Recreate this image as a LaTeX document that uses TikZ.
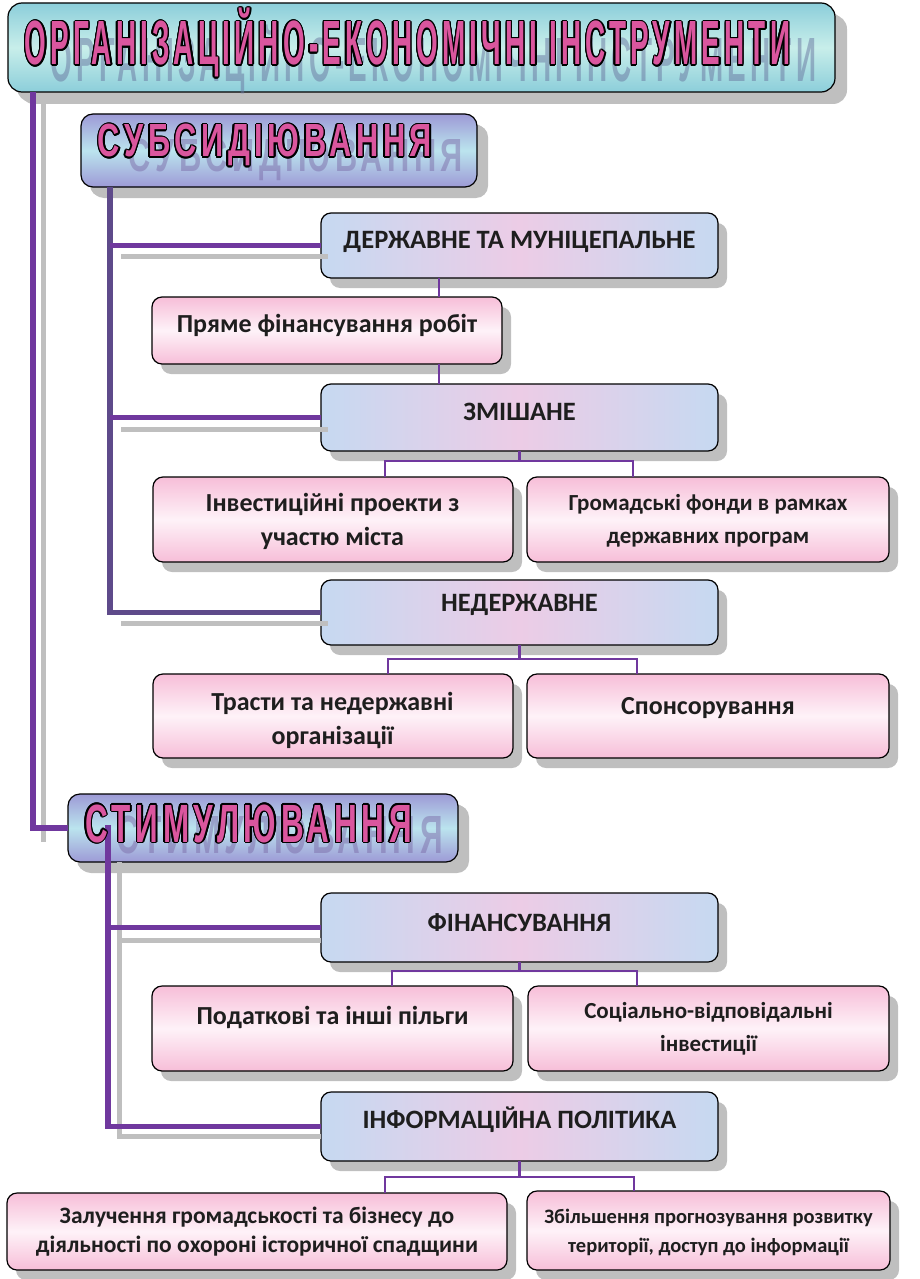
\documentclass[tikz,border=0pt]{standalone}
\usepackage{fontspec}
\usepackage{graphicx}
\setmainfont{Carlito}
\newfontfamily\ttlfont{Liberation Sans}[LetterSpace=15]
\usetikzlibrary{shadows,calc}

\definecolor{lnpurple}{RGB}{112,56,158}
\definecolor{lndark}{RGB}{94,74,138}
\definecolor{shgray}{RGB}{191,191,191}
\definecolor{bluE}{RGB}{198,217,241}
\definecolor{bluM}{RGB}{236,204,230}
\definecolor{pnkE}{RGB}{247,190,216}
\definecolor{pnkM}{RGB}{254,242,248}
\definecolor{hdE}{RGB}{157,154,214}
\definecolor{hdM}{RGB}{187,228,238}
\definecolor{tlE}{RGB}{140,206,218}
\definecolor{tlM}{RGB}{200,238,234}
\definecolor{lettr}{RGB}{218,86,158}
\definecolor{ghostT}{RGB}{105,118,160}
\definecolor{ghostH}{RGB}{125,110,170}
\definecolor{txt}{RGB}{30,30,30}

\newcommand\capsbox[1]{\raisebox{0pt}[\fontcharht\font`Н][0pt]{#1}}
\newcommand\fancytext[7]{%
  \node[fancy, text=#7, text opacity=0.5, anchor=base] (#1g) at ($#2+#6$) {\resizebox{#3}{#4}{\ttlfont\bfseries\capsbox{#5}}};
  \foreach \ang [count=\k] in {0,22.5,...,337.5}{
    \node[fancy, text=black, anchor=base] (#1o\k) at ($#2+(\ang:1.4pt)$) {\resizebox{#3}{#4}{\ttlfont\bfseries\capsbox{#5}}};}
  \node[fancy, text=lettr, anchor=base] (#1) at #2 {\resizebox{#3}{#4}{\ttlfont\bfseries\capsbox{#5}}};
}

\tikzset{
  fancy/.style={inner sep=0pt, outer sep=0pt},
  boxbase/.style={draw=black, line width=1.2pt, rounded corners=10pt, anchor=north west,
    inner sep=0pt, outer sep=0pt,
    drop shadow={shadow xshift=9pt, shadow yshift=-10pt, fill=shgray, opacity=1, draw=none}},
  bluebox/.style={boxbase, left color=bluE, right color=bluE, middle color=bluM},
  pinkbox/.style={boxbase, top color=pnkE, bottom color=pnkE, middle color=pnkM},
  headbox/.style={boxbase, rounded corners=12pt, top color=hdE, bottom color=hdE, middle color=hdM,
    drop shadow={shadow xshift=11pt, shadow yshift=-11pt, fill=shgray, opacity=1, draw=none}},
  titlebox/.style={boxbase, rounded corners=14pt, top color=tlE, bottom color=tlE, middle color=tlM,
    drop shadow={shadow xshift=12pt, shadow yshift=-12pt, fill=shgray, opacity=1, draw=none}},
  mainln/.style={draw=lnpurple, line width=5.5pt, line join=miter},
  subln/.style={draw=lndark, line width=5.5pt, line join=miter},
  shln/.style={draw=shgray, line width=5pt},
  thinln/.style={draw=lnpurple, line width=2.5pt},
  lblH/.style={inner sep=0pt, text=txt, font=\bfseries\fontsize{26.5}{30}\selectfont, align=center},
  lblP/.style={inner sep=0pt, text=txt, font=\bfseries\fontsize{26}{34}\selectfont, align=center},
  lblS/.style={inner sep=0pt, text=txt, font=\bfseries\fontsize{23}{33}\selectfont, align=center},
  lblBL/.style={inner sep=0pt, text=txt, font=\bfseries\fontsize{23.5}{29}\selectfont, align=center},
  lblBR/.style={inner sep=0pt, text=txt, font=\bfseries\fontsize{20.5}{29}\selectfont, align=center},
}

\begin{document}
\begin{tikzpicture}[x=1pt,y=-1pt]
\useasboundingbox (0,0) rectangle (919,1279);

% boxes
\node[titlebox, minimum width=827pt, minimum height=89pt] (title) at (8,3) {};
\node[headbox, minimum width=396pt, minimum height=73pt] (subs) at (81,114) {};
\node[bluebox, minimum width=397pt, minimum height=65pt] (derzh) at (321,213) {};
\node[pinkbox, minimum width=350pt, minimum height=67pt] (pryame) at (152,297) {};
\node[bluebox, minimum width=397pt, minimum height=67pt] (zmish) at (321,384) {};
\node[pinkbox, minimum width=360pt, minimum height=85pt] (invest) at (153,477) {};
\node[pinkbox, minimum width=362pt, minimum height=85pt] (hromad) at (527,477) {};
\node[bluebox, minimum width=397pt, minimum height=65pt] (nederzh) at (321,580) {};
\node[pinkbox, minimum width=360pt, minimum height=84pt] (trasty) at (153,674) {};
\node[pinkbox, minimum width=362pt, minimum height=84pt] (spons) at (527,674) {};
\node[headbox, minimum width=390pt, minimum height=68pt] (stim) at (68,794) {};
\node[bluebox, minimum width=397pt, minimum height=69pt] (fin) at (321,893) {};
\node[pinkbox, minimum width=361pt, minimum height=85pt] (podat) at (152,986) {};
\node[pinkbox, minimum width=361pt, minimum height=85pt] (social) at (528,986) {};
\node[bluebox, minimum width=397pt, minimum height=69pt] (info) at (321,1092) {};
\node[pinkbox, minimum width=500pt, minimum height=77pt] (zaluch) at (7,1193) {};
\node[pinkbox, minimum width=363pt, minimum height=79pt] (zbil) at (527,1191) {};

% gray shadow lines
\coordinate (g1) at (43,104);
\coordinate (g1e) at (43,842);
\draw[shln] (g1) -- (g1e);
\coordinate (gs) at (121,0);
\coordinate (gin) at (7,0);
\draw[shln] ($(gs |- derzh.west)+(0,11)$) -- ($(derzh.west)+(gin)+(0,11)$);
\draw[shln] ($(gs |- zmish.west)+(0,12)$) -- ($(zmish.west)+(gin)+(0,12)$);
\draw[shln] ($(gs |- nederzh.west)+(0,11)$) -- ($(nederzh.west)+(gin)+(0,11)$);
\coordinate (gt) at (119,862);
\draw[shln] (gt) |- ($(info.west)+(0,10)$);
\draw[shln] ($(gt |- fin.west)+(0,13)$) -- ($(fin.west)+(0,13)$);

% main purple lines
\coordinate (mx) at (33,0);
\draw[mainln] (title.south -| mx) |- (stim.west);
\coordinate (sx) at (110,0);
\draw[subln] (subs.south -| sx) |- (nederzh.west);
\draw[mainln] (sx |- derzh.west) -- (derzh.west);
\draw[mainln] (sx |- zmish.west) -- (zmish.west);
\coordinate (tx) at (108,825);
\draw[mainln] (tx) |- (info.west);
\draw[mainln] (tx |- fin.west) -- (fin.west);

% thin connectors
\coordinate (cx) at (439,0);
\draw[thinln] (derzh.south -| cx) -- (pryame.north -| cx);
\draw[thinln] (pryame.south -| cx) -- (zmish.north -| cx);

\coordinate (zj) at (519.5,461);
\coordinate (zl) at (385,0);
\coordinate (zr) at (633,0);
\draw[thinln] (zmish.south) -- (zj);
\draw[thinln] (invest.north -| zl) |- (zj) -| (hromad.north -| zr);

\coordinate (nj) at (519.5,659);
\coordinate (nl) at (388,0);
\coordinate (nr) at (637,0);
\draw[thinln] (nederzh.south) -- (nj);
\draw[thinln] (trasty.north -| nl) |- (nj) -| (spons.north -| nr);

\coordinate (fj) at (519.5,971);
\coordinate (fl) at (392,0);
\coordinate (fr) at (637,0);
\draw[thinln] (fin.south) -- (fj);
\draw[thinln] (podat.north -| fl) |- (fj) -| (social.north -| fr);

\coordinate (ij) at (519.5,1177);
\coordinate (il) at (385,0);
\coordinate (ir) at (634,0);
\draw[thinln] (info.south) -- (ij);
\draw[thinln] (zaluch.north -| il) |- (ij) -| (zbil.north -| ir);

% fancy headings
\fancytext{ttl}{(407.5,65)}{765pt}{43pt}{ОРГАНІЗАЦІЙНО-ЕКОНОМІЧНІ ІНСТРУМЕНТИ}{(26,17)}{ghostT}
\fancytext{subT}{(265,157)}{334pt}{32pt}{СУБСИДІЮВАННЯ}{(31,14)}{ghostH}
\fancytext{stimT}{(248.5,842)}{327pt}{37pt}{СТИМУЛЮВАННЯ}{(31,11)}{ghostH}

% labels
\node[lblH, anchor=base] (derzhT) at (519.5,248) {ДЕРЖАВНЕ ТА МУНІЦЕПАЛЬНЕ};
\node[lblP, anchor=base] (pryameT) at (327,332) {Пряме фінансування робіт};
\node[lblH, anchor=base] (zmishT) at (519.5,420) {ЗМІШАНЕ};
\node[lblP] (investT) at (332.5,521) {Інвестиційні проекти з\\участю міста};
\node[lblS] (hromadT) at (708,521) {Громадські фонди в рамках\\державних програм};
\node[lblH, anchor=base] (nederzhT) at (519.5,611) {НЕДЕРЖАВНЕ};
\node[lblP] (trastyT) at (332.5,720) {Трасти та недержавні\\організації};
\node[lblP, anchor=base] (sponsT) at (708,714) {Спонсорування};
\node[lblH, anchor=base] (finT) at (519.5,931) {ФІНАНСУВАННЯ};
\node[lblP, anchor=base] (podatT) at (332.5,1024) {Податкові та інші пільги};
\node[lblS] (socialT) at (708.5,1029) {Соціально-відповідальні\\інвестиції};
\node[lblH, anchor=base] (infoT) at (519.5,1128) {ІНФОРМАЦІЙНА ПОЛІТИКА};
\node[lblBL] (zaluchT) at (257,1232) {Залучення громадськості та бізнесу до\\діяльності по охороні історичної спадщини};
\node[lblBR] (zbilT) at (708.5,1232) {Збільшення прогнозування розвитку\\території, доступ до інформації};
\end{tikzpicture}
\end{document}
